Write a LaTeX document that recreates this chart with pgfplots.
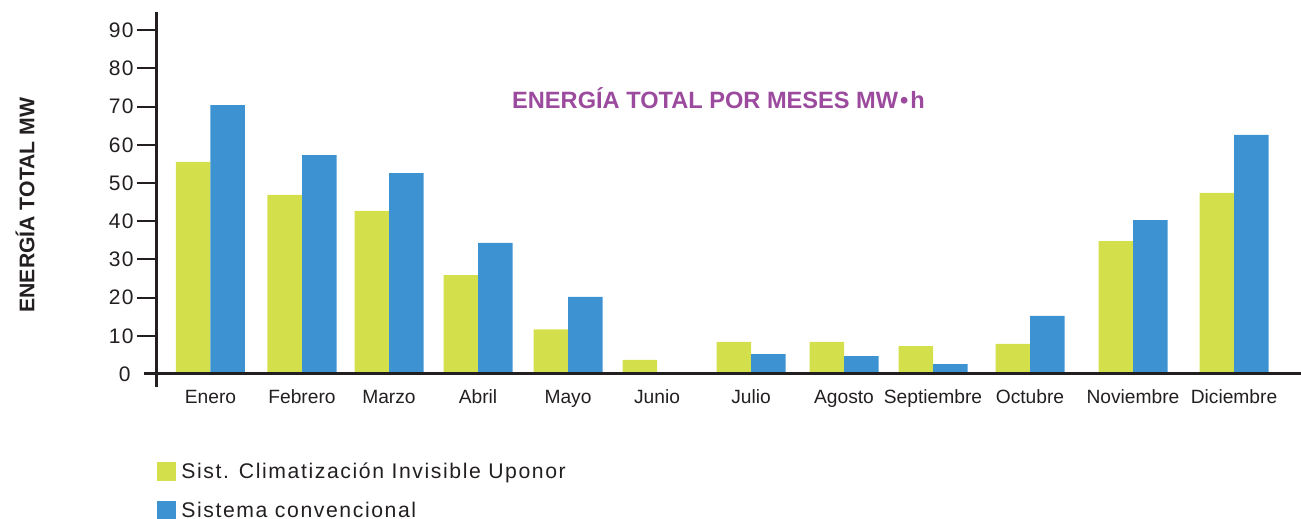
\documentclass[border=0pt]{standalone}
\usepackage{fontspec}
\setmainfont{Liberation Sans}
\usepackage{pgfplots}
\pgfplotsset{compat=1.18}
\definecolor{cgreen}{HTML}{D4E04B}
\definecolor{cblue}{HTML}{3D93D2}
\definecolor{cpurple}{HTML}{9B4A9D}
\definecolor{cax}{HTML}{231F20}
\begin{document}
\begin{tikzpicture}
\begin{axis}[
  x=0.5pt, y=1.91pt,
  xmin=157, xmax=1301, ymin=-3.4, ymax=94.8,
  axis lines*=left,
  x axis line style={draw=none},
  y axis line style={draw=cax, line width=1.5pt},
  clip=false,
  ybar, bar width=17.25pt,
  xtick={210.5,302,389,478,568,657,751,844,933,1030,1133,1234},
  xticklabels={Enero,Febrero,Marzo,Abril,Mayo,Junio,Julio,Agosto,Septiembre,Octubre,Noviembre,Diciembre},
  x tick style={draw=none},
  ytick={10,20,...,90},
  extra y ticks={0},
  extra y tick style={major tick length=6.5pt, yticklabel style={xshift=-5pt}},
  y tick style={draw=cax, line width=1pt},
  tick align=outside, major tick length=10pt,
  /pgf/number format/assume math mode=true,
  yticklabel style={font=\fontsize{10.5}{12}\selectfont\addfontfeatures{LetterSpace=6}\color{cax}, anchor=east, inner sep=0pt, xshift=-1.5pt},
  xticklabel style={font=\fontsize{9.6}{11}\selectfont\color{cax}, anchor=base, yshift=1.5pt},
  legend style={at={(axis description cs:0,-0.19)}, anchor=north west, draw=none, fill=none,
    inner sep=0pt, row sep=6.2pt, font=\fontsize{10.6}{12}\selectfont\addfontfeatures{LetterSpace=7.5}\color{cax},
    /tikz/every odd column/.append style={column sep=0.5pt}},
  legend cell align=left,
  legend image code/.code={\fill (0pt,-4.75pt) rectangle (9.5pt,4.75pt);},
]
\addplot[fill=cgreen, draw=none, bar shift=-8.625pt] coordinates {
(210.5,55.5) (302,46.9) (389,42.7) (478,25.9) (568,11.7) (657,3.7)
(751,8.4) (844,8.4) (933,7.3) (1030,7.9) (1133,34.8) (1234,47.4)};
\addplot[fill=cblue, draw=none, bar shift=8.625pt] coordinates {
(210.5,70.4) (302,57.3) (389,52.6) (478,34.3) (568,20.2) (657,0)
(751,5.2) (844,4.7) (933,2.6) (1030,15.2) (1133,40.3) (1234,62.6)};
\legend{Sist. Climatización Invisible Uponor, Sistema convencional}
\draw[cax, line width=1.5pt] (axis cs:144,0) -- (axis cs:1301,0);
\node[font=\bfseries\fontsize{11.8}{13}\selectfont, text=cpurple] at (axis cs:718.5,72.1) {ENERGÍA TOTAL POR MESES MW\hspace{1pt}•\hspace{1pt}h};
\node[font=\bfseries\fontsize{10.6}{13}\selectfont, text=cax, rotate=90] at (axis cs:25,44.2) {ENERGÍA TOTAL MW};
\coordinate (bl) at (axis cs:0,-37.96);
\coordinate (tr) at (axis cs:1301,97.9);
\end{axis}
\pgfresetboundingbox
\path[use as bounding box] (bl) rectangle (tr);
\end{tikzpicture}
\end{document}
